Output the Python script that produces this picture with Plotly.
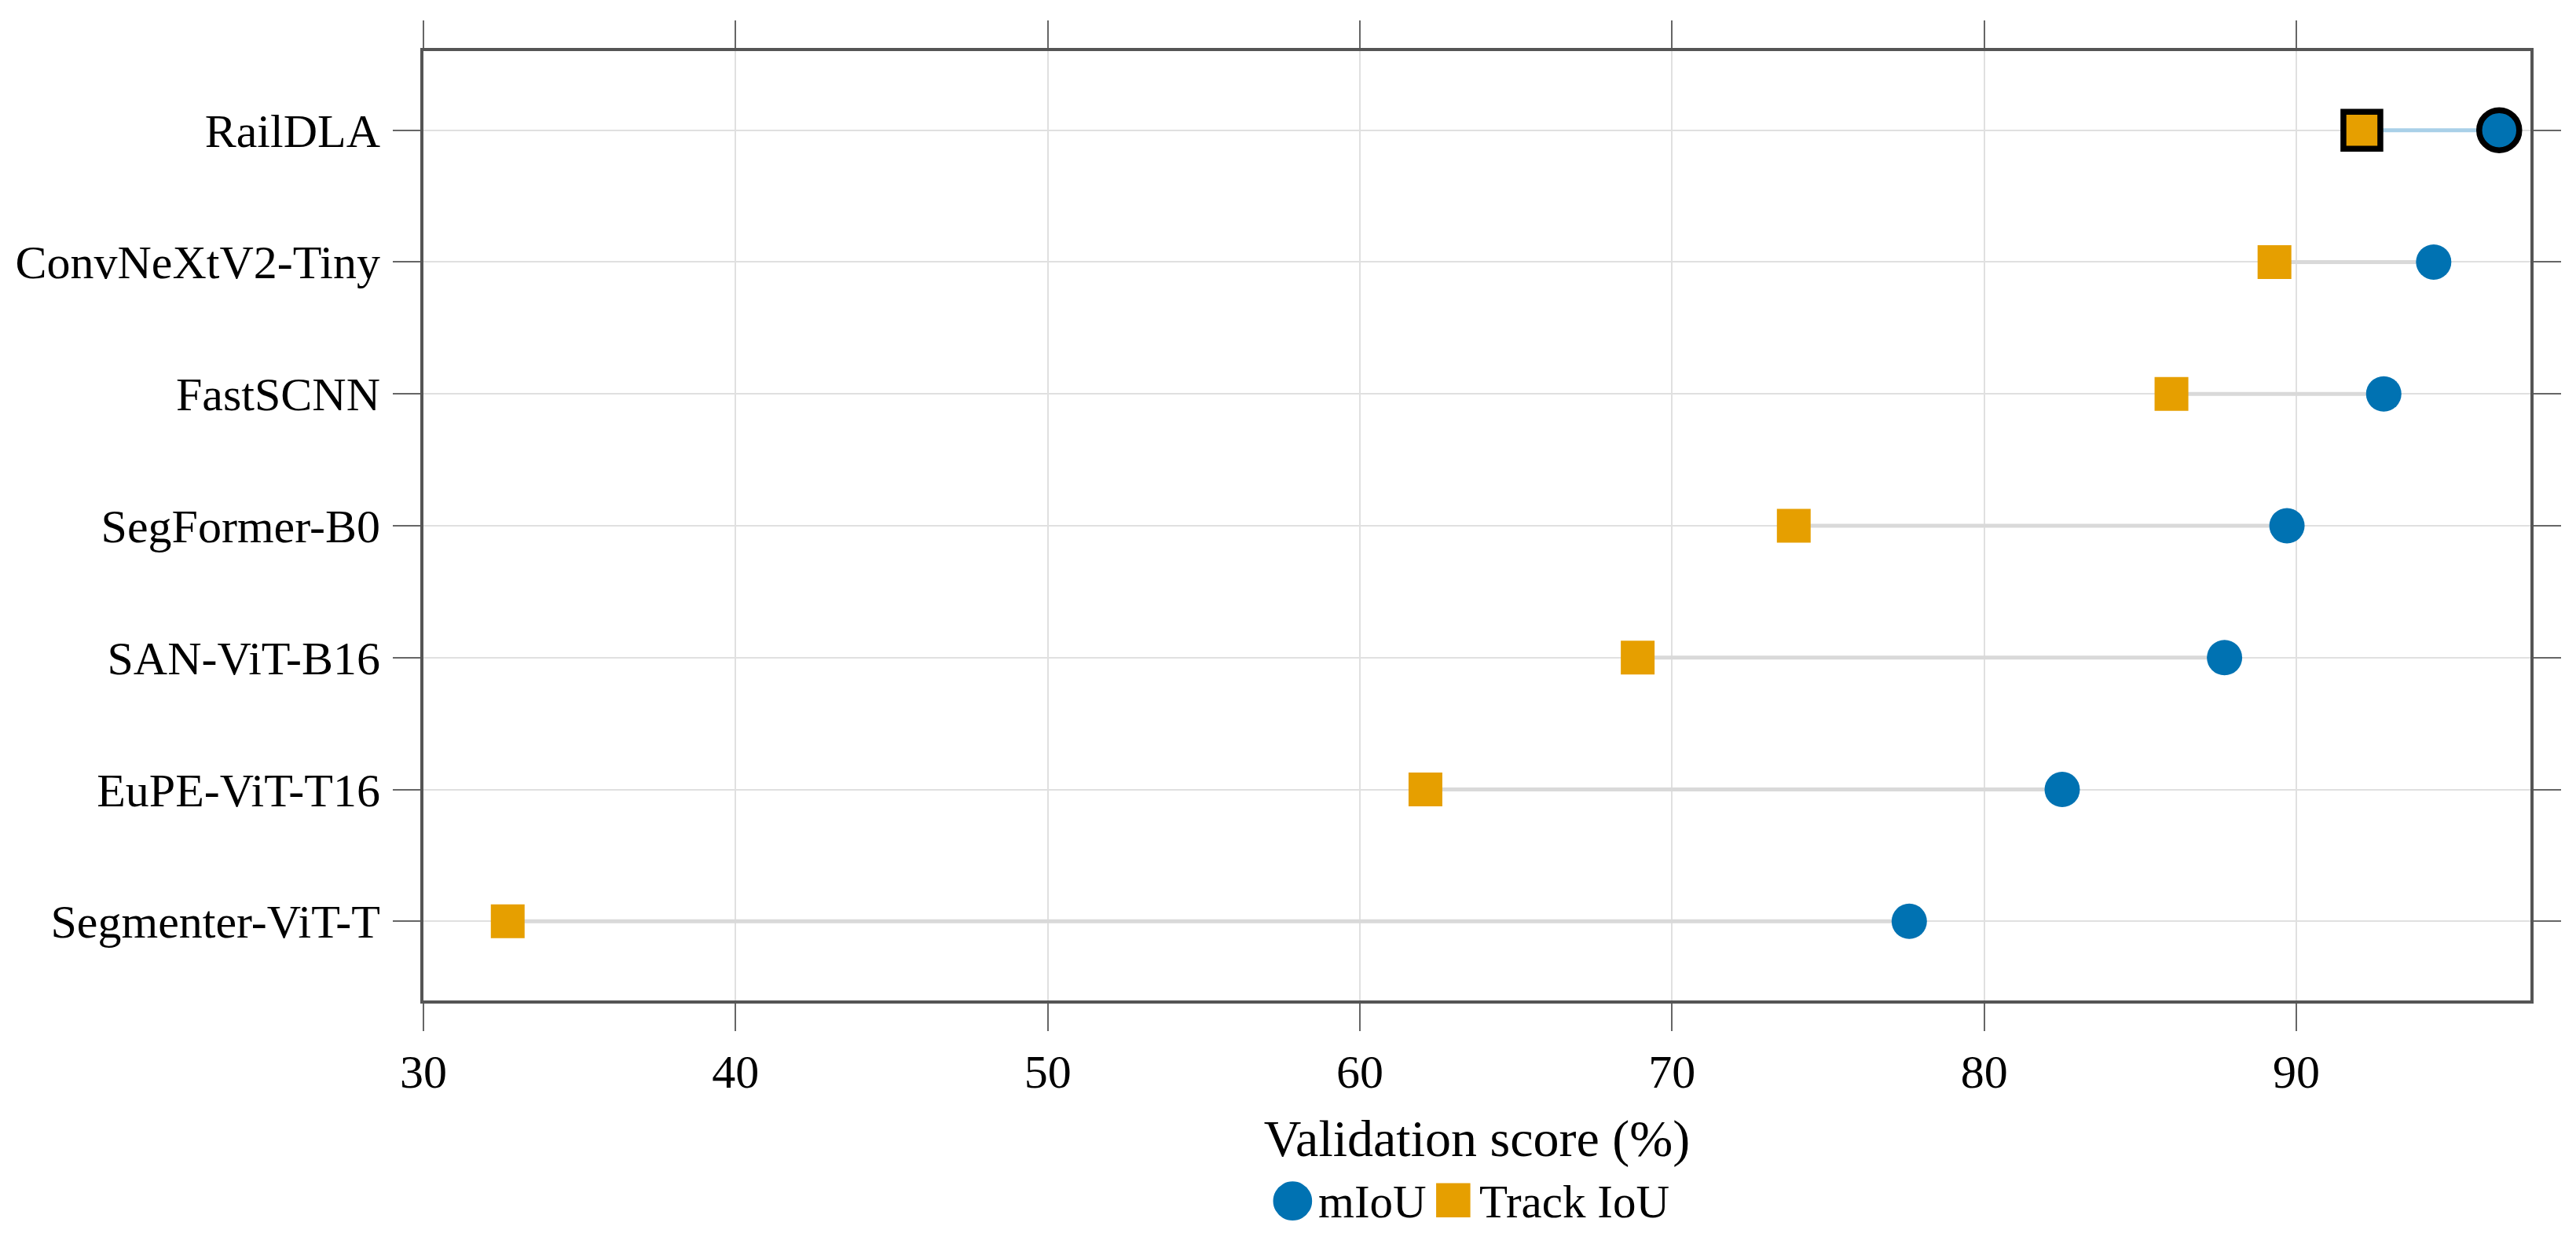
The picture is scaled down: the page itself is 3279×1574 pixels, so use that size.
import plotly.graph_objects as go

# models listed top to bottom as they appear in the chart
models = ["RailDLA", "ConvNeXtV2-Tiny", "FastSCNN", "SegFormer-B0",
          "SAN-ViT-B16", "EuPE-ViT-T16", "Segmenter-ViT-T"]
miou = [96.5, 94.4, 92.8, 89.7, 87.7, 82.5, 77.6]
track_iou = [92.1, 89.3, 86.0, 73.9, 68.9, 62.1, 32.7]
best = "RailDLA"

BLUE = "#0072B2"
ORANGE = "#E69F00"
FONT = "Liberation Serif"

fig = go.Figure()

# connector lines (grey for the others, light blue for the best model)
gx, gy, bx, by = [], [], [], []
for m, a, b in zip(models, track_iou, miou):
    if m == best:
        bx += [a, b, None]
        by += [m, m, None]
    else:
        gx += [a, b, None]
        gy += [m, m, None]

fig.add_trace(go.Scatter(x=gx, y=gy, mode="lines", line=dict(color="#d9d9d9", width=5),
                         showlegend=False, hoverinfo="skip"))
fig.add_trace(go.Scatter(x=bx, y=by, mode="lines", line=dict(color="#a9d0e8", width=5),
                         showlegend=False, hoverinfo="skip"))

fig.add_trace(go.Scatter(x=miou, y=models, mode="markers", name="mIoU", showlegend=False,
                         marker=dict(symbol="circle", size=45, color=BLUE)))
fig.add_trace(go.Scatter(x=track_iou, y=models, mode="markers", name="Track IoU", showlegend=False,
                         marker=dict(symbol="square", size=43, color=ORANGE)))

# outline the best model
i = models.index(best)
fig.add_trace(go.Scatter(x=[miou[i]], y=[best], mode="markers", showlegend=False,
                         marker=dict(symbol="circle", size=51, color=BLUE,
                                     line=dict(color="black", width=7.5))))
fig.add_trace(go.Scatter(x=[track_iou[i]], y=[best], mode="markers", showlegend=False,
                         marker=dict(symbol="square", size=47, color=ORANGE,
                                     line=dict(color="black", width=7.5))))

axis_common = dict(
    showline=True, linecolor="#555555", linewidth=4, mirror="ticks",
    ticks="outside", ticklen=35, tickwidth=2, tickcolor="#666666",
    showgrid=True, gridcolor="#e0e0e0", gridwidth=2, zeroline=False,
    tickfont=dict(family=FONT, size=60, color="black"), automargin=False,
)

fig.update_xaxes(range=[30, 97.5], dtick=10, tick0=30,
                 title=dict(text="Validation score (%)", standoff=30,
                            font=dict(family=FONT, size=66, color="black")),
                 **axis_common)
fig.update_yaxes(type="category", categoryorder="array", categoryarray=models[::-1],
                 range=[-0.6, 6.6], ticklabelstandoff=4, **axis_common)

# legend below the axis title: big glyphs + labels
leg_y = -0.212
glyphs = [("●", BLUE, 65, -235, "mIoU", -204), ("■", ORANGE, 57, -30, "Track IoU", 1)]
for g, col, gsize, gshift, label, lshift in glyphs:
    fig.add_annotation(text=g, xref="paper", yref="paper", x=0.5, y=leg_y,
                       xanchor="center", yanchor="middle", xshift=gshift, yshift=7,
                       showarrow=False, font=dict(family="DejaVu Sans", size=gsize, color=col))
    fig.add_annotation(text=label, xref="paper", yref="paper", x=0.5, y=leg_y,
                       xanchor="left", yanchor="middle", xshift=lshift,
                       showarrow=False, font=dict(family=FONT, size=59, color="black"))

fig.update_layout(
    width=3279, height=1574,
    margin=dict(l=531, r=66, t=57, b=309),
    plot_bgcolor="white", paper_bgcolor="white",
    font=dict(family=FONT, color="black"),
    showlegend=False,
)

fig.write_html("out.html")
